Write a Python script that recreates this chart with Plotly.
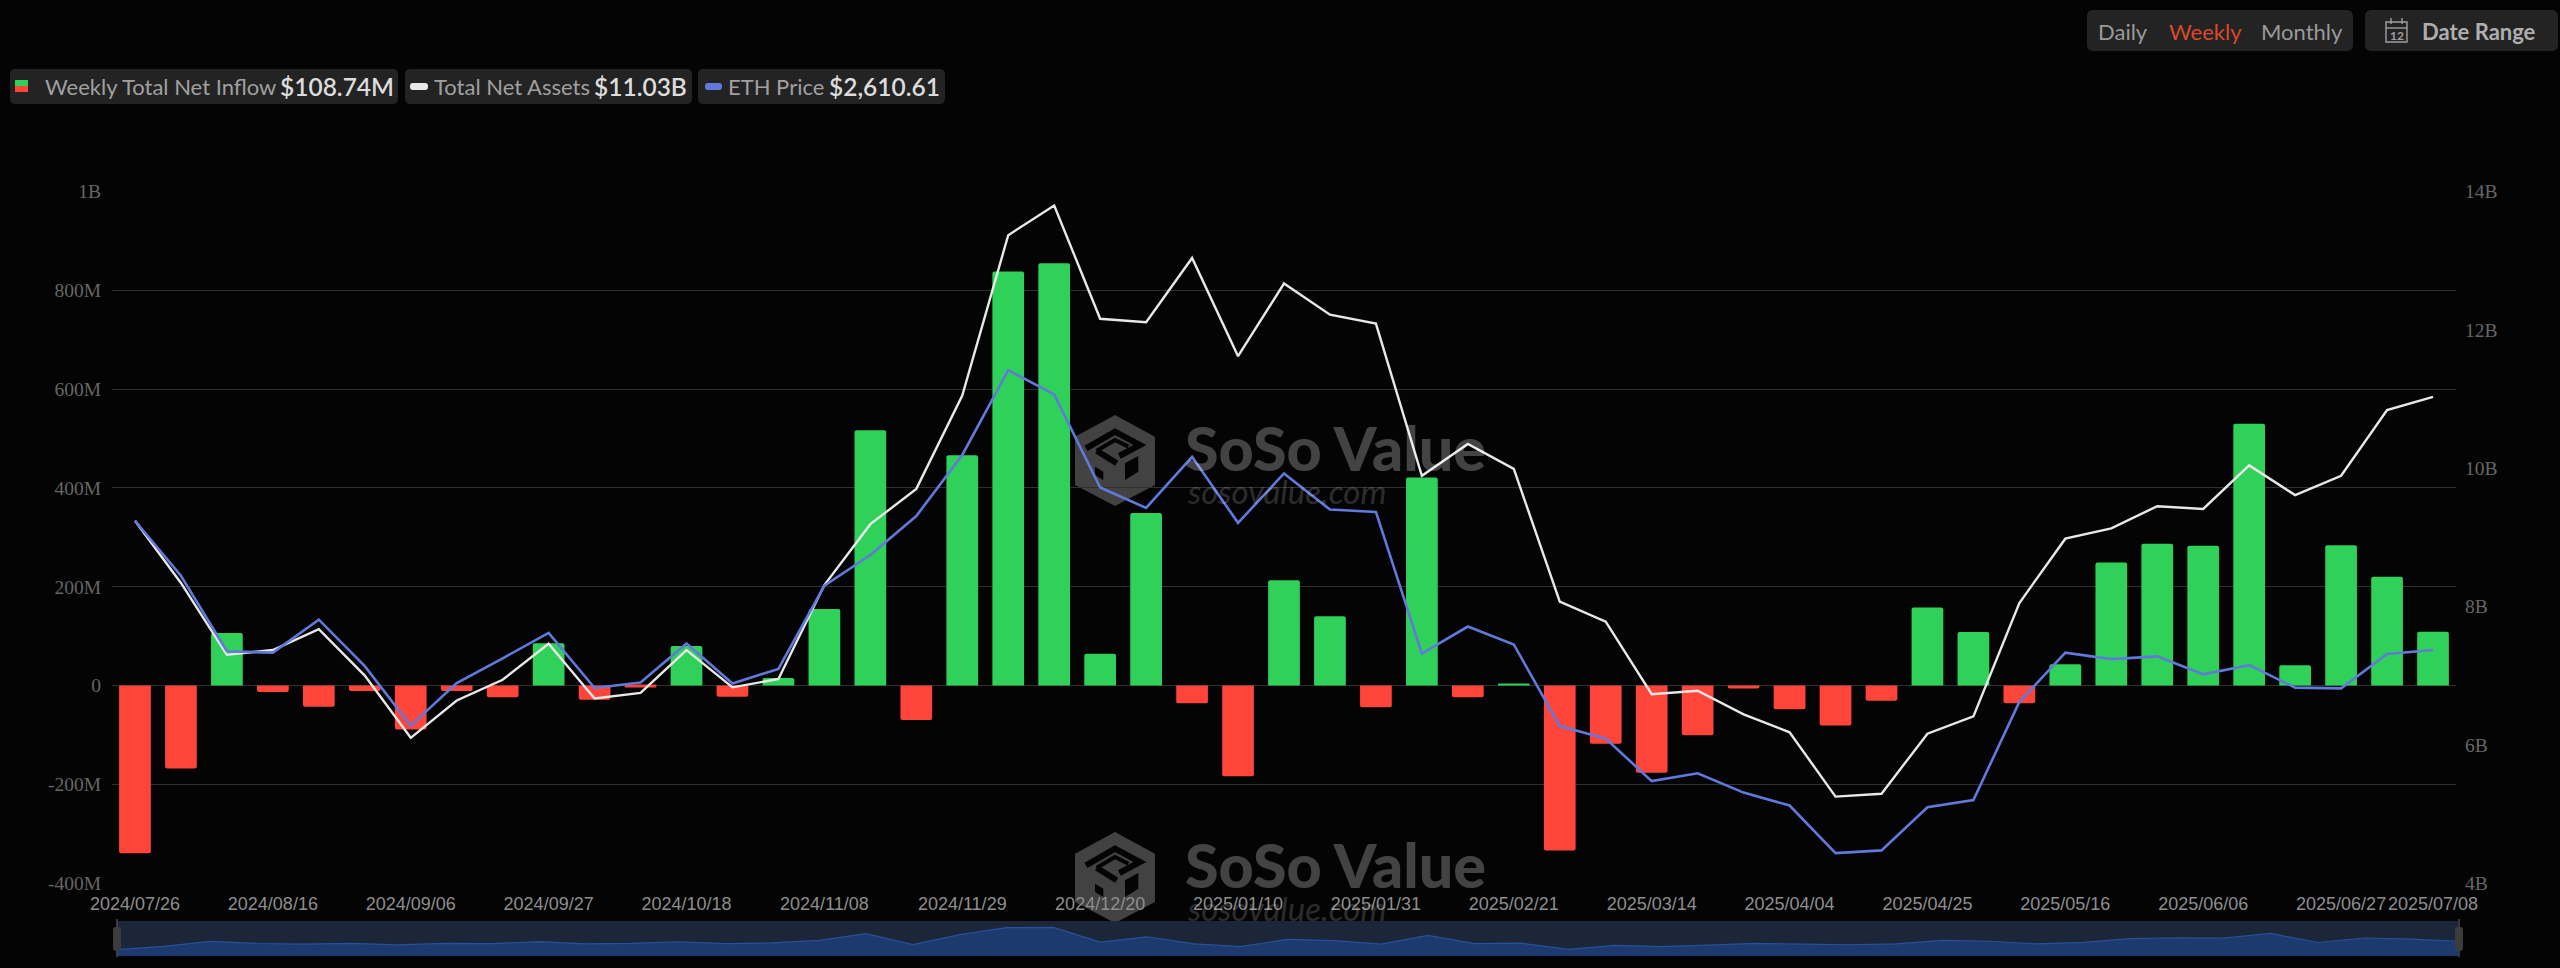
import plotly.graph_objects as go

W, H = 2560, 968

# ---------- data ----------
tick_dates = ["2024/07/26", "2024/08/16", "2024/09/06", "2024/09/27", "2024/10/18", "2024/11/08",
              "2024/11/29", "2024/12/20", "2025/01/10", "2025/01/31", "2025/02/21", "2025/03/14",
              "2025/04/04", "2025/04/25", "2025/05/16", "2025/06/06", "2025/06/27", "2025/07/08"]
dates = ["2024/07/26", "2024/08/02", "2024/08/09", "2024/08/16", "2024/08/23", "2024/08/30", "2024/09/06",
         "2024/09/13", "2024/09/20", "2024/09/27", "2024/10/04", "2024/10/11", "2024/10/18", "2024/10/25",
         "2024/11/01", "2024/11/08", "2024/11/15", "2024/11/22", "2024/11/29", "2024/12/06", "2024/12/13",
         "2024/12/20", "2024/12/27", "2025/01/03", "2025/01/10", "2025/01/17", "2025/01/24", "2025/01/31",
         "2025/02/07", "2025/02/14", "2025/02/21", "2025/02/28", "2025/03/07", "2025/03/14", "2025/03/21",
         "2025/03/28", "2025/04/04", "2025/04/11", "2025/04/18", "2025/04/25", "2025/05/02", "2025/05/09",
         "2025/05/16", "2025/05/23", "2025/05/30", "2025/06/06", "2025/06/13", "2025/06/20", "2025/06/27",
         "2025/07/04", "2025/07/08"]
net_inflow_m = [-340, -168, 106, -13, -43, -11, -89, -11, -24, 85.5, -29, -4, 80, -23, 15, 155, 517,
                -70, 466, 838, 855, 64, 349, -36, -184, 213, 140, -44, 421, -24, 3, -334, -118, -177,
                -101, -6, -48, -81, -31, 158, 108, -36, 43, 249, 287, 283, 530, 41, 284, 220, 108.74]
net_assets_b = [9.24, 8.34, 7.30, 7.37, 7.67, 7.00, 6.10, 6.64, 6.94, 7.46, 6.67, 6.75, 7.37, 6.83, 6.95,
                8.31, 9.19, 9.70, 11.05, 13.37, 13.80, 12.16, 12.11, 13.04, 11.62, 12.67, 12.22, 12.09,
                9.89, 10.35, 9.99, 8.07, 7.78, 6.73, 6.78, 6.44, 6.18, 5.25, 5.29, 6.16, 6.41, 8.05,
                8.98, 9.13, 9.45, 9.41, 10.04, 9.61, 9.89, 10.84, 11.03]
eth_price = [3273, 2991, 2604, 2597, 2766, 2528, 2223, 2441, 2568, 2698, 2416, 2444, 2644, 2439, 2514,
             2940, 3097, 3297, 3610, 4044, 3920, 3443, 3339, 3600, 3262, 3515, 3330, 3318, 2592, 2731,
             2639, 2221, 2157, 1939, 1979, 1880, 1814, 1570, 1584, 1805, 1842, 2345, 2597, 2564, 2578,
             2486, 2533, 2418, 2414, 2590, 2610.61]
left_ticks = [-400, -200, 0, 200, 400, 600, 800, 1000]
left_labels = ["-400M", "-200M", "0", "200M", "400M", "600M", "800M", "1B"]
right_ticks = [4, 6, 8, 10, 12, 14]
right_labels = ["4B", "6B", "8B", "10B", "12B", "14B"]

# ---------- styles ----------
BG = "#040404"
GREEN, RED, WHITE, BLUE = "#30D158", "#FF453A", "#E8E8E8", "#6279DC"
GRID = "#303030"
PILL = "#232323"
MARK = "#424242"


def px(x):
    return x / W


def py(y):
    return 1 - y / H


def path_px(points, close=True):
    s = "M " + " L ".join(f"{px(a):.5f},{py(b):.5f}" for a, b in points)
    return s + (" Z" if close else "")


def rounded(x0, y0, x1, y1, r):
    k = 0.3 * r
    p = lambda a, b: f"{px(a):.5f},{py(b):.5f}"
    return (f"M {p(x0 + r, y0)} L {p(x1 - r, y0)} C {p(x1 - k, y0)} {p(x1, y0 + k)} {p(x1, y0 + r)} "
            f"L {p(x1, y1 - r)} C {p(x1, y1 - k)} {p(x1 - k, y1)} {p(x1 - r, y1)} "
            f"L {p(x0 + r, y1)} C {p(x0 + k, y1)} {p(x0, y1 - k)} {p(x0, y1 - r)} "
            f"L {p(x0, y0 + r)} C {p(x0, y0 + k)} {p(x0 + k, y0)} {p(x0 + r, y0)} Z")


fig = go.Figure()
shapes, notes = [], []


def solid(path, color, layer="below"):
    shapes.append(dict(type="path", xref="paper", yref="paper", path=path, fillcolor=color,
                       line=dict(width=0), layer=layer))


def stroke(path, color, width, layer="below"):
    shapes.append(dict(type="path", xref="paper", yref="paper", path=path, line=dict(color=color, width=width),
                       layer=layer))


def text(x, y, s, size, color, family="Lato", anchor="left", weight=400, style="normal"):
    notes.append(dict(xref="paper", yref="paper", x=px(x), y=py(y), text=s, showarrow=False, xanchor=anchor,
                      yanchor="middle", borderpad=0, align="left",
                      font=dict(family=family, size=size, color=color, weight=weight, style=style)))


def watermark(dy):
    z = lambda a, b: (1060 + a / 3, 400 + b / 3 + dy)
    solid(path_px([z(165, 45), z(285, 110), z(285, 255), z(165, 318), z(45, 255), z(45, 110)]), MARK)
    stroke(path_px([z(78, 145), z(165, 95), z(240, 135), z(178, 168)], close=False), BG, 6)
    stroke(path_px([z(110, 152), z(165, 120), z(205, 140)], close=False), BG, 4)
    stroke(path_px([z(110, 152), z(170, 190)], close=False), BG, 6)
    solid(path_px([z(195, 190), z(235, 168), z(235, 215), z(195, 240)]), BG)
    solid(path_px([z(105, 200), z(130, 215), z(130, 240), z(105, 225)]), BG)
    text(1184, 447 + dy, "SoSo Value", 61, "rgba(255,255,255,0.25)", weight=900)
    text(1186, 491 + dy, "sosovalue.com", 33, "rgba(255,255,255,0.18)", style="italic")


watermark(0)
watermark(417)

# ---------- main traces ----------
fig.add_trace(go.Bar(x=dates, y=net_inflow_m, xaxis="x", yaxis="y",
                     marker=dict(color=[GREEN if v >= 0 else RED for v in net_inflow_m], line=dict(width=0))))
fig.add_trace(go.Scatter(x=dates, y=net_assets_b, mode="lines", xaxis="x", yaxis="y2",
                         line=dict(color=WHITE, width=2.4)))
fig.add_trace(go.Scatter(x=dates, y=eth_price, mode="lines", xaxis="x", yaxis="y3",
                         line=dict(color=BLUE, width=2.6)))

# ---------- range-slider style overview, same series as the bars ----------
floor = min(net_inflow_m) * 2.02
fig.add_trace(go.Scatter(x=dates, y=[floor] * len(dates), mode="lines", xaxis="x2", yaxis="y4",
                         line=dict(width=0), hoverinfo="skip"))
fig.add_trace(go.Scatter(x=dates, y=net_inflow_m, mode="lines", xaxis="x2", yaxis="y4", fill="tonexty",
                         fillcolor="#1D3A6E", line=dict(color="#2A5099", width=1.2)))

# strip background and handles
solid(rounded(117, 921, 2458, 956, 0.01), "#1B2638")
for hx in (117, 2459):
    shapes.append(dict(type="line", xref="paper", yref="paper", x0=px(hx), x1=px(hx), y0=py(919), y1=py(957),
                       line=dict(color="#4A4A4A", width=1.5), layer="above"))
    solid(rounded(hx - 4, 927, hx + 4, 951, 3), "#3C3C3C", layer="above")

# ---------- legend pills ----------
solid(rounded(10, 69, 398, 104, 6), PILL)
solid(rounded(405, 69, 692, 104, 6), PILL)
solid(rounded(698, 69, 945, 104, 6), PILL)
solid(path_px([(15, 80), (28, 80), (28, 86), (15, 86)]), GREEN)
solid(path_px([(15, 86), (28, 86), (28, 92), (15, 92)]), RED)
solid(rounded(410, 83, 428, 90, 3), WHITE)
solid(rounded(705, 83, 722, 90, 3), BLUE)
text(44, 87, "Weekly Total Net Inflow", 22, "#A0A0A0")
text(279, 87, "$108.74M", 24.5, "#DCDCDC", weight=600)
text(433, 87, "Total Net Assets", 22, "#A0A0A0")
text(593, 87, "$11.03B", 24.5, "#DCDCDC", weight=600)
text(727, 87, "ETH Price", 22, "#A0A0A0")
text(828, 87, "$2,610.61", 24.5, "#DCDCDC", weight=600)

# ---------- period pills ----------
solid(rounded(2087, 10, 2353, 51, 7), PILL)
solid(rounded(2365, 10, 2558, 51, 7), PILL)
text(2123, 31, "Daily", 22, "#9A9A9A", anchor="center")
text(2205, 31, "Weekly", 22, "#D9492A", anchor="center")
text(2302, 31, "Monthly", 22, "#9A9A9A", anchor="center")
text(2479, 31, "Date Range", 22, "#AEAEAE", anchor="center", weight=700)
stroke(path_px([(2386, 22), (2407, 22), (2407, 42), (2386, 42)]), "#A0A0A0", 1.4, layer="above")
stroke(path_px([(2386, 28), (2407, 28)], close=False), "#A0A0A0", 1.4, layer="above")
stroke(path_px([(2391, 18), (2391, 24)], close=False), "#A0A0A0", 1.4, layer="above")
stroke(path_px([(2402, 18), (2402, 24)], close=False), "#A0A0A0", 1.4, layer="above")
text(2396.5, 35, "12", 12, "#A0A0A0", anchor="center", weight=700)

tick_font = dict(family="Liberation Serif", size=19.5, color="#666666")

fig.update_layout(
    width=W, height=H, autosize=False,
    margin=dict(l=0, r=0, t=0, b=0, pad=0, autoexpand=False),
    paper_bgcolor=BG, plot_bgcolor=BG,
    showlegend=False, bargap=0.31, barcornerradius=2,
    shapes=shapes, annotations=notes,
    xaxis=dict(domain=[px(112), px(2456)], type="category", range=[-0.5, 50.5], anchor="y",
               tickmode="array", tickvals=tick_dates, ticktext=tick_dates, ticks="", showgrid=False,
               showline=False, zeroline=False, ticklabelstandoff=8, tickangle=0, automargin=False,
               tickfont=dict(family="Liberation Sans", size=18, color="#8E8E8E")),
    yaxis=dict(domain=[py(883), py(191.6)], range=[-400, 1000], tickmode="array", tickvals=left_ticks,
               ticktext=left_labels, tickfont=tick_font, showgrid=True, gridcolor=GRID, gridwidth=1.3,
               zeroline=True, zerolinecolor=GRID, zerolinewidth=1.3, showline=False, ticks="",
               ticklabelstandoff=10, layer="below traces", automargin=False),
    yaxis2=dict(domain=[py(883), py(191.6)], range=[4, 14], overlaying="y", side="right", anchor="x",
                tickmode="array", tickvals=right_ticks, ticktext=right_labels, tickfont=tick_font,
                showgrid=False, zeroline=False, showline=False, ticks="", ticklabelstandoff=8, automargin=False),
    yaxis3=dict(domain=[py(883), py(191.6)], range=[1417, 4959], overlaying="y", side="right", anchor="x",
                visible=False),
    xaxis2=dict(domain=[px(117), px(2458)], type="category", range=[0, 50], anchor="y4", visible=False),
    yaxis4=dict(domain=[py(956), py(921)], range=[floor, 1199], anchor="x2", visible=False),
)

fig.write_html("out.html", config={"displayModeBar": False},
               post_script="document.body.style.margin='0';document.body.style.overflow='hidden';")
